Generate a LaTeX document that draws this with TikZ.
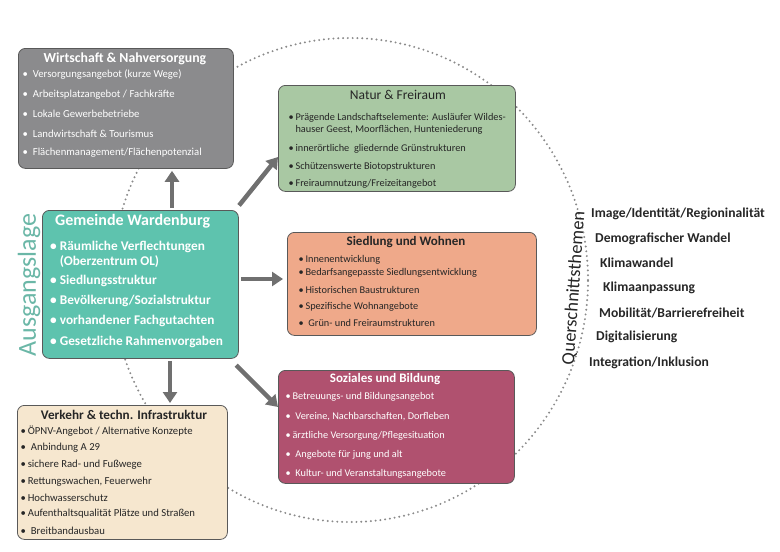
\documentclass[tikz,border=0pt]{standalone}
\usepackage{fontspec}
\setmainfont{Carlito}
\usetikzlibrary{arrows.meta}

\definecolor{wirtgray}{HTML}{8B8B8D}
\definecolor{naturgreen}{HTML}{A9C8A3}
\definecolor{siedlorange}{HTML}{EFA98A}
\definecolor{sozialred}{HTML}{B0516F}
\definecolor{verkehrcream}{HTML}{F6E7CF}
\definecolor{gemeindeteal}{HTML}{5EC3AE}
\definecolor{ausgangteal}{HTML}{6BB7A7}
\definecolor{arrowgray}{HTML}{707070}
\definecolor{circlegray}{HTML}{8A8A8A}
\definecolor{textdark}{HTML}{262626}

\tikzset{
  box/.style={draw=black!65, line width=0.8pt, rounded corners=7pt, anchor=north west, inner sep=0pt},
  conn/.style={draw=arrowgray, line width=4.5pt, -{Triangle[length=11pt,width=14pt]}, shorten <=2pt},
  ttl/.style={inner sep=0pt, font=\fontsize{13}{15}\selectfont\bfseries},
  itm/.style={anchor=west, inner sep=0pt, font=\fontsize{10.3}{12}\selectfont},
  topic/.style={anchor=west, inner sep=0pt, font=\fontsize{13.6}{15}\selectfont\bfseries, text=textdark},
}

\begin{document}
\begin{tikzpicture}[x=1pt, y=-1pt]
	\useasboundingbox (0,0) rectangle (780,552);

	%dotted circle
	\draw[circlegray, line width=2.2pt, line cap=round, dash pattern=on 0pt off 4.8pt] (350,280) ellipse [x radius=238pt, y radius=242pt];

	%boxes
	\node[box, fill=wirtgray, minimum width=215pt, minimum height=120pt] (wn) at (18,48){};
	\node[box, fill=naturgreen, minimum width=237pt, minimum height=106pt] (nf) at (278,85){};
	\node[box, fill=siedlorange, minimum width=249pt, minimum height=103pt] (sw) at (287,232){};
	\node[box, fill=sozialred, minimum width=236pt, minimum height=113pt] (sb) at (278,370){};
	\node[box, fill=verkehrcream, minimum width=210pt, minimum height=134pt] (vi) at (17,405){};
	\node[box, fill=gemeindeteal, minimum width=196pt, minimum height=148pt] (gw) at (42,210){};

	%Wirtschaft & Nahversorgung
	\node[ttl, text=white, font=\fontsize{13.8}{16}\selectfont\bfseries] (wnt) at (125,59){Wirtschaft \& Nahversorgung};
	\foreach \yy/\txt [count=\i] in {75/{Versorgungsangebot (kurze Wege)}, 95/{Arbeitsplatzangebot / Fachkräfte}, 114/{Lokale Gewerbebetriebe}, 134/{Landwirtschaft \& Tourismus}, 153/{Flächenmanagement/Flächenpotenzial}}
		\node[itm, text=white, font=\fontsize{10.7}{12}\selectfont] (wn\i) at (22.5,\yy){•~~\txt};

	%Natur & Freiraum
	\node[ttl, text=textdark, font=\fontsize{13.5}{15}\selectfont] (nft) at (398,95){Natur \& Freiraum};
	\foreach \yy/\txt [count=\i] in {118/{•\,Prägende Landschaftselemente: Ausläufer Wildes-}, 130/{\phantom{•}\,hauser Geest, Moorflächen, Hunteniederung}, 149/{•\,innerörtliche~ gliedernde Grünstrukturen}, 167/{•\,Schützenswerte Biotopstrukturen}, 184/{•\,Freiraumnutzung/Freizeitangebot}}
		\node[itm, text=textdark] (nf\i) at (288.5,\yy){\txt};

	%Siedlung und Wohnen
	\node[ttl, text=textdark] (swt) at (406,242){Siedlung und Wohnen};
	\foreach \yy/\txt [count=\i] in {260/{•\,Innenentwicklung}, 273/{•\,Bedarfsangepasste Siedlungsentwicklung}, 290/{•\,Historischen Baustrukturen}, 307/{•\,Spezifische Wohnangebote}, 323/{•~~Grün- und Freiraumstrukturen}}
		\node[itm, text=textdark] (sw\i) at (298.5,\yy){\txt};

	%Soziales und Bildung
	\node[ttl, text=white] (sbt) at (385,379){Soziales und Bildung};
	\foreach \yy/\txt [count=\i] in {397/{•\,Betreuungs- und Bildungsangebot}, 417/{•~~Vereine, Nachbarschaften, Dorfleben}, 436/{•\,ärztliche Versorgung/Pflegesituation}, 455/{•~~Angebote für jung und alt}, 474/{•~~Kultur- und Veranstaltungsangebote}}
		\node[itm, text=white] (sb\i) at (285.5,\yy){\txt};

	%Verkehr & techn. Infrastruktur
	\node[ttl, text=textdark, font=\fontsize{13.2}{15}\selectfont\bfseries] (vit) at (124,415){Verkehr \& techn. Infrastruktur};
	\foreach \yy/\txt [count=\i] in {431/{•\,ÖPNV-Angebot / Alternative Konzepte}, 448/{•~~Anbindung A 29}, 465/{•\,sichere Rad- und Fußwege}, 482/{•\,Rettungswachen, Feuerwehr}, 498/{•\,Hochwasserschutz}, 514/{•\,Aufenthaltsqualität Plätze und Straßen}, 531/{•~~Breitbandausbau}}
		\node[itm, text=textdark, font=\fontsize{10.7}{12}\selectfont] (vi\i) at (20.5,\yy){\txt};

	%Gemeinde Wardenburg
	\node[ttl, anchor=west, text=white, font=\fontsize{16}{18}\selectfont\bfseries] (gwt) at (55,221){Gemeinde Wardenburg};
	\foreach \yy/\txt [count=\i] in {247/{•~Räumliche Verflechtungen}, 262/{\phantom{•~}(Oberzentrum OL)}, 281/{•~Siedlungsstruktur}, 301/{•~Bevölkerung/Sozialstruktur}, 321/{•~vorhandener Fachgutachten}, 342/{•~Gesetzliche Rahmenvorgaben}}
		\node[itm, text=white, font=\fontsize{13.3}{15}\selectfont\bfseries] (gw\i) at (50,\yy){\txt};

	%side labels
	\node[inner sep=0pt, rotate=90, text=ausgangteal, font=\fontsize{26}{28}\selectfont] (al) at (29,285){Ausgangslage};
	\node[inner sep=0pt, rotate=86, text=textdark, font=\fontsize{18.5}{20}\selectfont] (qt) at (574,288){Querschnittsthemen};

	%cross-cutting topics
	\node[topic] (t1) at (591,214){Image/Identität/Regioninalität};
	\node[topic] (t2) at (595,239){Demografischer Wandel};
	\node[topic] (t3) at (600,263){Klimawandel};
	\node[topic] (t4) at (603,288){Klimaanpassung};
	\node[topic] (t5) at (599,313){Mobilität/Barrierefreiheit};
	\node[topic] (t6) at (596,337){Digitalisierung};
	\node[topic] (t7) at (589,363){Integration/Inklusion};

	%arrows
	\draw[conn, shorten >=2pt] (gw.north -| 172,0) -- (wn.south -| 172,0);
	\draw[conn] ([shift={(-1,-3)}]gw.north east) -- (nf.west |- 0,157);
	\draw[conn, shorten >=4pt] (gw.east |- 0,279) -- (sw.west |- 0,279);
	\draw[conn, shorten >=2pt] (gw.south -| 170,0) -- (vi.north -| 170,0);
	\draw[conn] ([shift={(-4,5)}]gw.south east) -- (sb.west |- 0,407);

\end{tikzpicture}
\end{document}
